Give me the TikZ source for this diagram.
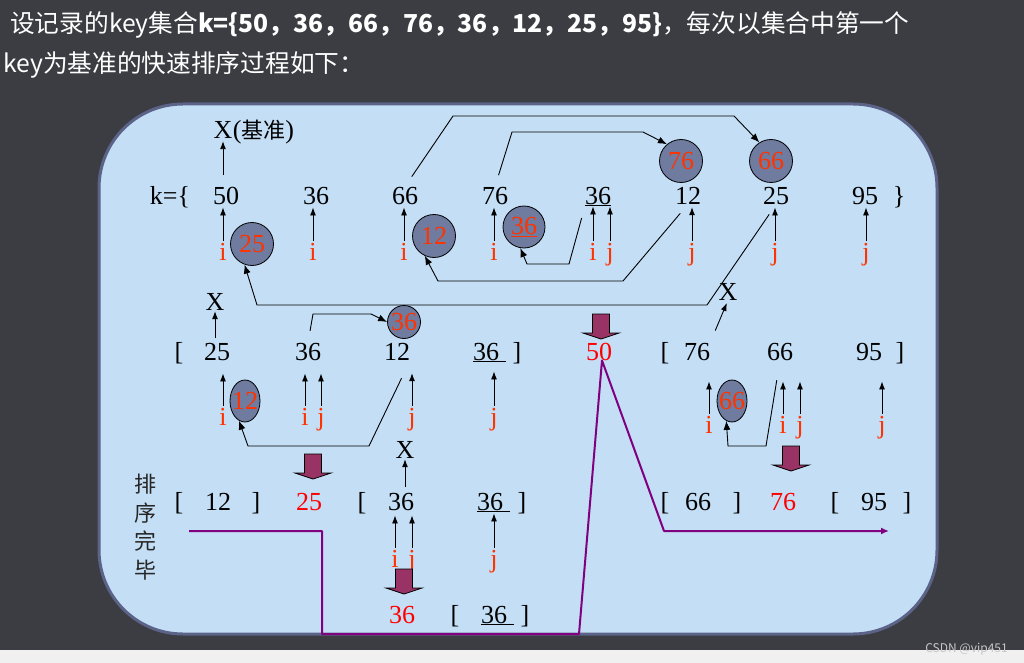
\documentclass[tikz,border=0pt]{standalone}
\usepackage{fontspec}
\setmainfont{Liberation Serif}
\newfontfamily\cjk{Noto Sans CJK SC}
\usetikzlibrary{arrows.meta,shapes.geometric}

\definecolor{slate}{HTML}{3C3D42}
\definecolor{strip}{HTML}{F0F0F0}
\definecolor{panel}{HTML}{C3DEF5}
\definecolor{rim}{HTML}{5C6388}
\definecolor{ballfill}{HTML}{6F7B9F}
\definecolor{ptrred}{HTML}{FF3300}
\definecolor{pivred}{HTML}{FF0000}
\definecolor{blockfill}{HTML}{993366}
\definecolor{donepurple}{HTML}{800080}
\definecolor{markgray}{HTML}{C8C8C8}

\tikzset{
    num/.style={inner sep=0pt, anchor=base, font=\fontsize{26}{30}\selectfont},
    piv/.style={num, text=pivred},
    ptrlbl/.style={num, text=ptrred},
    ball/.style={circle, draw=black, line width=0.8pt, fill=ballfill, text=ptrred,
        inner sep=0pt, minimum size=43pt, font=\fontsize{26}{30}\selectfont},
    egg/.style={ellipse, draw=black, line width=0.8pt, fill=ballfill, text=ptrred,
        inner sep=0pt, minimum width=30pt, minimum height=42pt, font=\fontsize{26}{30}\selectfont},
    up/.style={-{Latex[length=8pt,width=6pt]}, line width=0.9pt, shorten <=2pt},
    link/.style={-{Latex[length=9pt,width=7pt]}, line width=0.9pt},
    done/.style={draw=donepurple, line width=2pt, line join=round},
    drop/.pic={
        \filldraw[fill=blockfill, draw=black, line width=0.8pt]
            (-8.5,0) -- (8.5,0) -- (8.5,19) -- (18,19) -- (0,25) -- (-18,19) -- (-8.5,19) -- cycle;
    }
}

\begin{document}
\begin{tikzpicture}[x=1pt, y=-1pt]

        \useasboundingbox (0,0) rectangle (1024,663);
        \fill[slate] (0,0) rectangle (1024,663);
        \fill[strip] (0,650) rectangle (1024,663);
        \filldraw[fill=panel, draw=rim, line width=3pt, rounded corners=84pt] (99,104) rectangle (937,634);

        % heading
        \node[anchor=base west, inner sep=0pt, text=white, font=\cjk\fontsize{24.7}{28}\selectfont] (head1) at (10,33)
            {设记录的key集合\textbf{k=\{50，36，66，76，36，12，25，95\}}，每次以集合中第一个};
        \node[anchor=base west, inner sep=0pt, text=white, font=\cjk\fontsize{24.7}{28}\selectfont] (head2) at (3,73)
            {key为基准的快速排序过程如下：};

        % first pass
        \node[num] (kopen) at (170,204) {k=\{};
        \node[num] (n1a) at (226,204) {50};
        \node[num] (n1b) at (316,204) {36};
        \node[num] (n1c) at (405,204) {66};
        \node[num] (n1d) at (495,204) {76};
        \node[num] (n1e) at (598,204) {\underline{36}};
        \node[num] (n1f) at (688,204) {12};
        \node[num] (n1g) at (776,204) {25};
        \node[num] (n1h) at (865,204) {95};
        \node[num] (kclose) at (899,204) {\}};

        \node[num] (xk) at (223,139) {X};
        \node[num, anchor=base west] (xkt) at (xk.base east) {({\cjk\fontsize{22}{26}\selectfont 基准})};
        \draw[up, shorten <=12pt, shorten >=2pt] (xk.south |- n1a.north) -- (xk.south);

        \node[ball] (c25) at (252,244) {25};
        \node[ball] (c12) at (434,236) {12};
        \node[ball, minimum size=42pt] (c36) at (524,227) {\underline{36}};
        \node[ball] (c76) at (681,161) {76};
        \node[ball] (c66) at (771,161) {66};

        \node[ptrlbl] (i1a) at (223,260) {i};
        \draw[up, shorten >=3pt] (i1a.north) -- (i1a.north |- n1a.south);
        \node[ptrlbl] (i1b) at (313,260) {i};
        \draw[up, shorten >=3pt] (i1b.north) -- (i1b.north |- n1b.south);
        \node[ptrlbl] (i1c) at (404,260) {i};
        \draw[up, shorten >=3pt] (i1c.north) -- (i1c.north |- n1c.south);
        \node[ptrlbl] (i1d) at (494,260) {i};
        \draw[up, shorten >=3pt] (i1d.north) -- (i1d.north |- n1d.south);
        \node[ptrlbl] (i1e) at (593,260) {i};
        \draw[up] (i1e.north) -- (i1e.north |- n1e.south);
        \node[ptrlbl] (j1e) at (610,260) {j};
        \draw[up] (j1e.north) -- (j1e.north |- n1e.south);
        \node[ptrlbl] (j1f) at (692,260) {j};
        \draw[up, shorten >=3pt] (j1f.north) -- (j1f.north |- n1f.south);
        \node[ptrlbl] (j1g) at (775,260) {j};
        \draw[up, shorten >=3pt] (j1g.north) -- (j1g.north |- n1g.south);
        \node[ptrlbl] (j1h) at (866,260) {j};
        \draw[up, shorten >=3pt] (j1h.north) -- (j1h.north |- n1h.south);

        \draw[link, shorten <=12pt] (n1c.north) -- (453,116) -- (734,116) -- (c66.122);
        \draw[link, shorten <=12pt] (n1d.north) -- (512,132) -- (643,132) -- (c76.130);
        \draw[link, shorten <=12pt] (n1e.south west) -- (569,264) -- (527,264) -- (c36.260);
        \draw[link, shorten <=12pt] (n1f.south) -- (623,281) -- (438,281) -- (c12.245);
        \draw[link, shorten <=12pt] (n1g.south) -- (707,305) -- (257,305) -- (c25.250);

        % second pass, left part
        \node[num] (xl) at (215,310) {X};
        \node[num] (lb2) at (179,360) {[};
        \node[num] (n2a) at (217,360) {25};
        \node[num] (n2b) at (308,360) {36};
        \node[num] (n2c) at (397,360) {12};
        \node[num, anchor=base west] (n2d) at (473,360) {\underline{36\ }};
        \node[num] (rb2) at (517,360) {]};
        \draw[up, shorten <=5pt, shorten >=1pt] (xl.south |- n2a.north) -- (xl.south);

        \node[ball, minimum size=33pt] (c36s) at (404,322) {36};
        \draw[link, shorten <=12pt] (n2b.north) -- (313,314) -- (371,314) -- (c36s.west);
        \node[egg] (e12) at (245,401) {\makebox[0pt]{12}};
        \draw[link, shorten <=20pt] (n2c.south east) -- (369,446) -- (248,446) -- (e12.253);

        \node[ptrlbl] (i2a) at (223,425) {i};
        \draw[up, shorten >=13pt] (i2a.north) -- (i2a.north |- n2a.south);
        \node[ptrlbl] (i2b) at (305,425) {i};
        \draw[up, shorten >=13pt] (i2b.north) -- (i2b.north |- n2b.south);
        \node[ptrlbl] (j2b) at (321,425) {j};
        \draw[up, shorten >=13pt] (j2b.north) -- (j2b.north |- n2b.south);
        \node[ptrlbl] (j2c) at (412,425) {j};
        \draw[up, shorten >=13pt] (j2c.north) -- (j2c.north |- n2c.south);
        \node[ptrlbl] (j2d) at (494,425) {j};
        \draw[up, shorten >=9pt] (j2d.north) -- (j2d.north |- n2d.south);

        % pivot 50 and right part
        \pic at (601,314) {drop};
        \node[piv] (p50) at (599,360) {50};
        \node[num] (lb2r) at (665,360) {[};
        \node[num] (n2f) at (697,360) {76};
        \node[num] (n2g) at (780,360) {66};
        \node[num] (n2h) at (869,360) {95};
        \node[num] (rb2r) at (900,360) {]};
        \node[num] (xr) at (728,300) {X};
        \draw[up, shorten <=13pt, shorten >=3pt] (n2f.north east) -- (xr.south);

        \node[egg] (e66) at (732,401) {\makebox[0pt]{66}};
        \draw[link, shorten <=20pt] (n2g.south) -- (766,446) -- (728,446) -- (e66.254);

        \node[ptrlbl] (i2f) at (709,433) {i};
        \draw[up, shorten >=21pt] (i2f.north) -- (i2f.north |- n2f.south);
        \node[ptrlbl] (i2g) at (783,433) {i};
        \draw[up, shorten >=21pt] (i2g.north) -- (i2g.north |- n2g.south);
        \node[ptrlbl] (j2g) at (800,433) {j};
        \draw[up, shorten >=21pt] (j2g.north) -- (j2g.north |- n2g.south);
        \node[ptrlbl] (j2h) at (882,433) {j};
        \draw[up, shorten >=21pt] (j2h.north) -- (j2h.north |- n2h.south);

        % third pass
        \node[align=center, inner sep=0pt, text=black!85, font=\cjk\fontsize{22}{28.5}\selectfont] (fin) at (145,527) {排\\序\\完\\毕};
        \node[num] (lb3a) at (179,510) {[};
        \node[num] (n3a) at (218,510) {12};
        \node[num] (rb3a) at (256,510) {]};
        \pic at (313,454) {drop};
        \node[piv] (p25) at (309,510) {25};
        \node[num] (lb3b) at (362,510) {[};
        \node[num] (n3b) at (401,510) {36};
        \node[num, anchor=base west] (n3c) at (477,510) {\underline{36\ }};
        \node[num] (rb3b) at (522,510) {]};
        \node[num] (xm) at (405,458) {X};
        \draw[up, shorten <=6pt, shorten >=1pt] (xm.south |- n3b.north) -- (xm.south);

        \node[ptrlbl] (i3b) at (395,567) {i};
        \draw[up, shorten >=5pt] (i3b.north) -- (i3b.north |- n3b.south);
        \node[ptrlbl] (j3b) at (412,567) {j};
        \draw[up, shorten >=5pt] (j3b.north) -- (j3b.north |- n3b.south);
        \node[ptrlbl] (j3c) at (494,567) {j};
        \draw[up, shorten >=1pt] (j3c.north) -- (j3c.north |- n3c.south);

        \pic at (791,446) {drop};
        \node[num] (lb3r) at (665,510) {[};
        \node[num] (n3d) at (698,510) {66};
        \node[num] (rb3r) at (737,510) {]};
        \node[piv] (p76) at (783,510) {76};
        \node[num] (lb3s) at (835,510) {[};
        \node[num] (n3e) at (874,510) {95};
        \node[num] (rb3s) at (907,510) {]};

        % fourth pass
        \pic at (404,569) {drop};
        \node[piv] (p36) at (402,623) {36};
        \node[num] (lb4) at (455,623) {[};
        \node[num, anchor=base west] (n4a) at (481,623) {\underline{36\ }};
        \node[num] (rb4) at (525,623) {]};

        % finished order
        \coordinate (doneL) at (189,531);
        \coordinate (doneR) at (889,531);
        \draw[done, -{Latex[length=8pt,width=7pt]}] (doneL) -- (322,531) -- (322,634) -- (579,634)
            -- ([xshift=3pt]p50.south) -- (664,531) -- (doneR);

        \node[anchor=base east, inner sep=0pt, text=markgray, font=\cjk\fontsize{12}{14}\selectfont] (mark) at (1008,652) {CSDN @vip451};
    \end{tikzpicture}
\end{document}
